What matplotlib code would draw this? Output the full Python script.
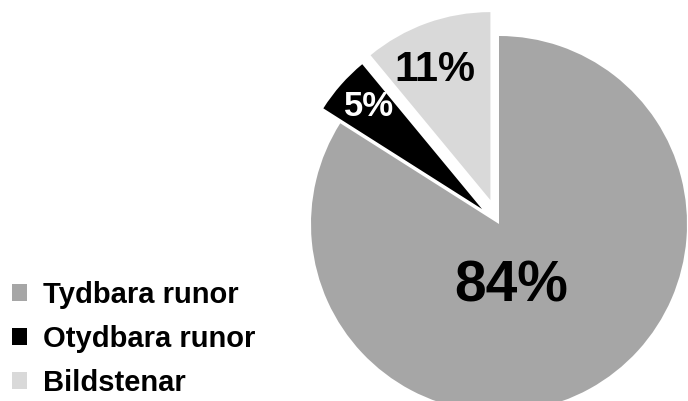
import matplotlib
matplotlib.use('Agg')
import matplotlib.pyplot as plt

labels = ['Tydbara runor', 'Otydbara runor', 'Bildstenar']
values = [84, 5, 11]
colors = ['#a6a6a6', '#000000', '#d9d9d9']
explode_frac = [0, 0.12, 0.135]
pct_colors = ['black', 'white', 'black']
pct_sizes = [41, 25, 30]
# label centres, in pixel offsets from pie centre
pct_offsets = [(12, -63), (-130, 118), (-64, 154)]

plt.rcParams['font.family'] = ['Liberation Sans', 'DejaVu Sans']

W, H = 688, 401
fig = plt.figure(figsize=(W / 100, H / 100), dpi=100)
ax = fig.add_axes([0, 0, 1, 1])

cx, cy, R = 499, H - 224, 188

# explode in pie is in data units, so scale by radius
wedges, texts = ax.pie(values, colors=colors,
                       explode=[e * R for e in explode_frac],
                       startangle=90, counterclock=False,
                       center=(cx, cy), radius=R, frame=True,
                       wedgeprops=dict(linewidth=0))
ax.set_xlim(0, W)
ax.set_ylim(0, H)
ax.axis('off')

for v, c, s, (dx, dy) in zip(values, pct_colors, pct_sizes, pct_offsets):
    ax.text(cx + dx, cy + dy, f'{v}%', color=c, fontsize=s,
            fontweight='bold', ha='center', va='center')

fig.legend(wedges, labels, loc='upper left', bbox_to_anchor=(0.0, 1 - 269 / H),
           frameon=False, prop=dict(weight='bold', size=21),
           handlelength=0.52, handleheight=0.52, handletextpad=0.55,
           labelspacing=0.56, borderaxespad=0.3, borderpad=0.1)

fig.savefig('out.png', dpi=100)
